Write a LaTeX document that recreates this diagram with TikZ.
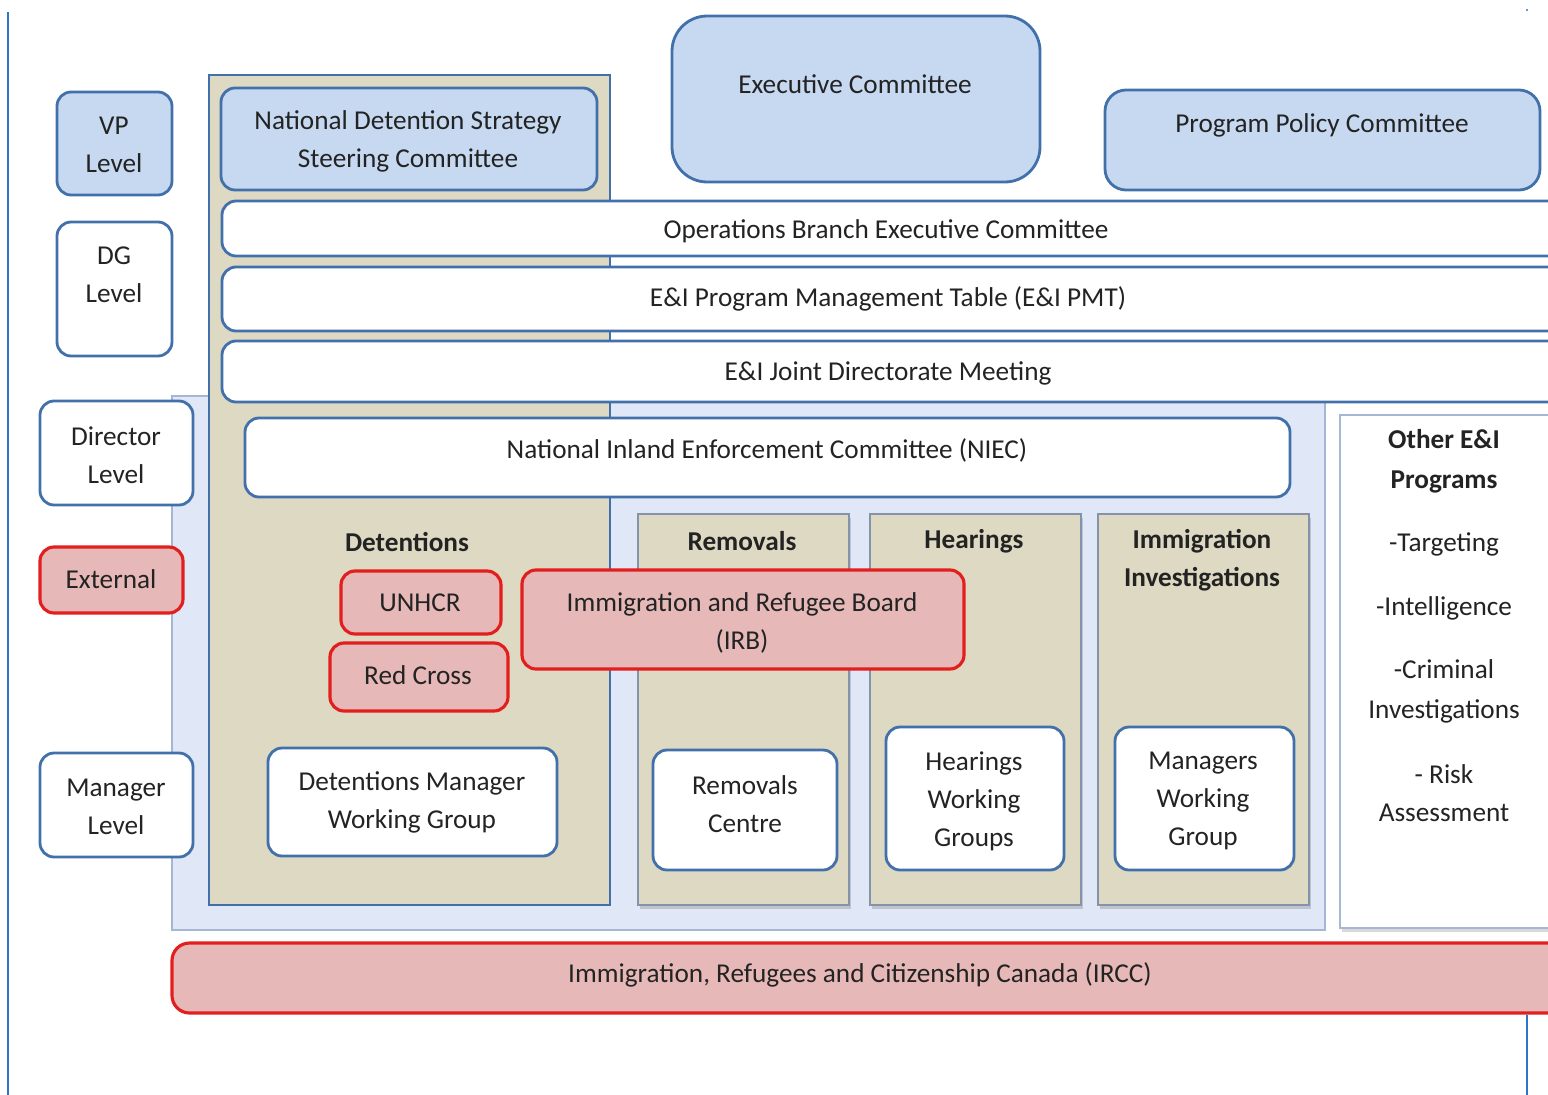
\documentclass[tikz,border=0pt]{standalone}
\usepackage{fontspec}
\setmainfont{Carlito}
\usetikzlibrary{shadows}

\definecolor{boxblue}{RGB}{198,217,241}
\definecolor{edgeblue}{RGB}{66,112,170}
\definecolor{tanfill}{RGB}{221,217,195}
\definecolor{boxred}{RGB}{230,185,184}
\definecolor{edgered}{RGB}{226,30,30}
\definecolor{panelblue}{RGB}{224,232,248}
\definecolor{paneledge}{RGB}{165,183,212}
\definecolor{txt}{RGB}{35,35,35}
\definecolor{rulecol}{RGB}{46,117,198}

\begin{document}
\begin{tikzpicture}[x=0.02cm,y=-0.02cm,
  every node/.style={text=txt,font=\fontsize{15.5}{21.6}\selectfont,align=center},
  head/.style={font=\bfseries\fontsize{15.5}{21.6}\selectfont},
  wide/.style={font=\fontsize{15.5}{22.8}\selectfont},
  bluebox/.style={draw=edgeblue,line width=1.6pt,rounded corners=8pt,fill=boxblue},
  whitebox/.style={bluebox,fill=white},
  redbox/.style={draw=edgered,line width=1.8pt,rounded corners=8pt,fill=boxred},
  column/.style={draw=paneledge!80!black,line width=0.8pt,fill=tanfill,
    drop shadow={shadow xshift=1pt,shadow yshift=-2pt,opacity=0.35}}]
\useasboundingbox (0,0) rectangle (1548,1095);
\clip (0,0) rectangle (1548,1095);

% page rules
\draw[rulecol,line width=1.4pt] (8,12) -- (8,1095);
\draw[rulecol,line width=1.4pt] (1527,1015) -- (1527,1095);
\fill[rulecol] (1527,10) circle (1.2);

% background panels
\draw[fill=panelblue,draw=paneledge,line width=0.8pt] (172,396) rectangle (1325,930);
\draw[fill=white,draw=paneledge,line width=0.8pt,
  drop shadow={shadow xshift=1pt,shadow yshift=-2pt,opacity=0.3}] (1340,415) rectangle (1570,928);
\draw[fill=tanfill,draw=edgeblue,line width=1.6pt] (209,75) rectangle (610,905);
\foreach \a/\b in {638/849,870/1081,1098/1309}
  \draw[column] (\a,514) rectangle (\b,905);

% levels
\draw[bluebox] (57,92) rectangle (172,195);
\draw (114,145) node {VP\\Level};
\draw[whitebox] (57,222) rectangle (172,356);
\draw (114,275) node {DG\\Level};
\draw[whitebox] (40,401) rectangle (193,505);
\draw (116,455) node {Director\\Level};
\draw[redbox] (40,547) rectangle (183,613);
\draw (111,579) node {External};
\draw[whitebox] (40,753) rectangle (193,857);
\draw (116,807) node {Manager\\Level};

% committees
\draw[bluebox] (221,88) rectangle (597,190);
\draw (408,141) node {National Detention Strategy\\Steering Committee};
\draw[bluebox,rounded corners=20pt] (672,16) rectangle (1040,182);
\draw (855,84) node {Executive Committee};
\draw[bluebox,rounded corners=12pt] (1105,90) rectangle (1540,190);
\draw (1322,125) node {Program Policy Committee};
\draw[whitebox] (222,201) rectangle (1570,256);
\draw (886,231) node {Operations Branch Executive Committee};
\draw[whitebox] (222,267) rectangle (1570,331);
\draw (888,299) node {E\&I Program Management Table (E\&I PMT)};
\draw[whitebox] (222,341) rectangle (1570,402);
\draw (888,373) node {E\&I Joint Directorate Meeting};
\draw[whitebox] (245,418) rectangle (1290,497);
\draw (767,450) node {National Inland Enforcement Committee (NIEC)};

% detentions
\draw (407,542) node[head] {Detentions};
\draw[redbox] (341,571) rectangle (501,634);
\draw (420,603) node {UNHCR};
\draw[redbox] (330,643) rectangle (508,711);
\draw (418,675) node {Red Cross};
\draw[whitebox] (268,748) rectangle (557,856);
\draw (412,802) node {Detentions Manager\\Working Group};

% columns
\draw (742,541) node[head] {Removals};
\draw (974,541) node[head] {Hearings};
\draw (1202,560) node[head] {Immigration\\Investigations};
\draw[redbox] (522,570) rectangle (964,669);
\draw (742,623) node {Immigration and Refugee Board\\(IRB)};
\draw[whitebox] (653,750) rectangle (837,870);
\draw (745,804) node {Removals\\Centre};
\draw[whitebox] (886,727) rectangle (1064,870);
\draw (974,801) node {Hearings\\Working\\Groups};
\draw[whitebox] (1115,727) rectangle (1294,870);
\draw (1203,801) node {Managers\\Working\\Group};

% other programs
\draw (1444,461) node[head,font=\bfseries\fontsize{15.5}{22.8}\selectfont] {Other E\&I\\Programs};
\draw (1444,544) node {-Targeting};
\draw (1444,608) node {-Intelligence};
\draw (1444,691) node[wide] {-Criminal\\Investigations};
\draw (1444,793) node {- Risk\\Assessment};

% department
\draw[redbox,rounded corners=10pt] (172,943) rectangle (1570,1013);
\draw (860,975) node {Immigration, Refugees and Citizenship Canada (IRCC)};
\end{tikzpicture}
\end{document}
